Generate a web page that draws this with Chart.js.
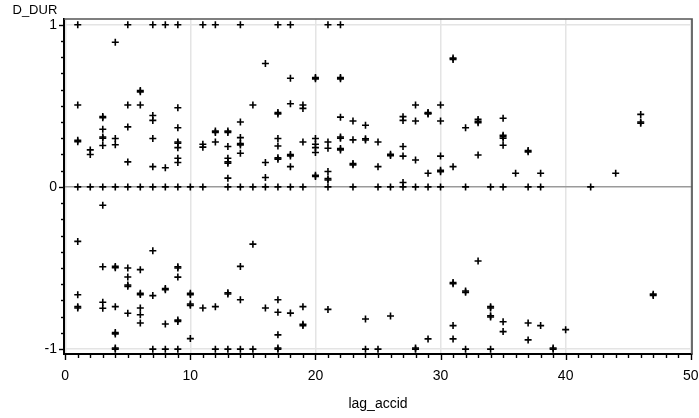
<!DOCTYPE html>
<html><head><meta charset="utf-8">
<script src="https://cdn.jsdelivr.net/npm/chart.js@4.4.1/dist/chart.umd.min.js"></script>
<style>html,body{margin:0;padding:0;background:#fff;}</style>
</head><body>
<canvas id="c" width="699" height="418"></canvas>
<script>
// lag_accid values and the D_DUR observations read at each lag
const lagAccid = [1,2,3,4,5,6,7,8,9,10,11,12,13,14,15,16,17,18,19,20,21,22,23,24,25,26,27,28,29,30,31,32,33,34,35,36,37,38,39,40,42,44,46,47];
const dDur = [
  [1, 0.505, 0.287, 0.279, 0, -0.336, -0.665, -0.738, -0.746],
  [0.228, 0.20, 0],
  [0.434, 0.426, 0.355, 0.308, 0.300, 0.255, 0, -0.113, -0.492, -0.711, -0.748],
  [0.892, 0.298, 0.26, 0, -0.49, -0.498, -0.738, -0.898, -0.906, -1, -0.993],
  [1, 0.505, 0.37, 0.154, 0, -0.50, -0.555, -0.605, -0.613, -0.779],
  [0.594, 0.586, 0.505, 0, -0.51, -0.656, -0.664, -0.746, -0.788, -0.839],
  [1, 0.44, 0.41, 0.298, 0.125, 0, -0.394, -0.67, -1],
  [1, 0.118, 0, -0.626, -0.634, -0.845, -1],
  [1, 0.488, 0.365, 0.277, 0.269, 0.242, 0.177, 0.15, 0, -0.492, -0.5, -0.556, -0.821, -0.829, -1],
  [0, -0.656, -0.664, -0.722, -0.730, -0.935],
  [1, 0.263, 0.245, 0, -0.746],
  [1, 0.344, 0.336, 0.277, -0.738, -1],
  [0.344, 0.336, 0.249, 0.177, 0.154, 0.146, 0.054, 0, -0.652, -0.660, -1],
  [1, 0.40, 0.304, 0.267, 0.259, 0.207, 0, -0.49, -0.696, -1],
  [0.505, 0, -0.353, -1],
  [0.761, 0.15, 0.058, 0, -0.746],
  [1, 0.458, 0.450, 0.298, 0.252, 0.179, 0.171, 0, -0.696, -0.773, -0.912, -1, -0.993],
  [1, 0.67, 0.513, 0.199, 0.191, 0.125, 0, -0.778],
  [0.505, 0.484, 0.277, 0, -0.738, -0.847, -0.855],
  [0.674, 0.666, 0.298, 0.263, 0.242, 0.212, 0.072, 0.064],
  [1, 0.277, 0.238, 0.095, 0.051, 0.043, 0, -0.755],
  [1, 0.674, 0.666, 0.43, 0.308, 0.300, 0.236, 0.228],
  [0.406, 0.29, 0.144, 0.136, 0],
  [0.38, 0.297, 0.289, -0.814, -1],
  [0.277, 0.125, 0, -1],
  [0.201, 0.193, 0, -0.796],
  [0.433, 0.41, 0.249, 0.19, 0.027, 0],
  [0.505, 0.406, 0.166, 0, -1, -0.993],
  [0.458, 0.450, 0.454, 0.084, 0, -0.937],
  [0.505, 0.406, 0.19, 0.102, 0.094, 0],
  [0.794, 0.786, 0.125, -0.589, -0.597, -0.855, -0.937],
  [0.365, 0, -0.642, -0.650, -1],
  [0.416, 0.404, 0.396, 0.197, -0.457],
  [0, -0.738, -0.746, -0.794, -0.802, -1],
  [0.423, 0.318, 0.310, 0.30, 0.257, 0, -0.831, -0.892],
  [0.084],
  [0.224, 0.216, 0, -0.839, -0.943],
  [0.084, 0, -0.855],
  [-1, -0.993],
  [-0.88],
  [0],
  [0.084],
  [0.447, 0.400, 0.392],
  [-0.661, -0.669]
];
const xTickLabels = [0, 10, 20, 30, 40, 50];
const yTickLabels = [-1, 0, 1];
const xTitle = 'lag_accid';
const yTitle = 'D_DUR';

const points = [];
lagAccid.forEach((lag, i) => dDur[i].forEach(v => points.push({x: lag, y: v})));

const FONT = '"Liberation Sans", Arial, sans-serif';

const framePlugin = {
  id: 'frame',
  afterDraw(chart) {
    const {ctx, chartArea: a, scales: {x, y}} = chart;
    ctx.save();
    ctx.strokeStyle = '#555';
    ctx.lineWidth = 1.7;
    ctx.beginPath();
    ctx.moveTo(a.left, a.top); ctx.lineTo(a.right, a.top); ctx.lineTo(a.right, a.bottom);
    ctx.stroke();
    ctx.strokeStyle = '#000';
    ctx.lineWidth = 1.4;
    for (let v = 0; v <= 50; v++) {
      const px = Math.round(x.getPixelForValue(v)) + 0.5;
      const len = v % 10 === 0 ? 6 : 4;
      ctx.beginPath(); ctx.moveTo(px, a.bottom); ctx.lineTo(px, a.bottom + len); ctx.stroke();
    }
    for (let k = -10; k <= 10; k++) {
      const py = Math.round(y.getPixelForValue(k / 10)) + 0.5;
      const len = k % 10 === 0 ? 5 : 3;
      ctx.beginPath(); ctx.moveTo(a.left, py); ctx.lineTo(a.left - len, py); ctx.stroke();
    }
    ctx.fillStyle = '#000';
    ctx.font = '14px ' + FONT;
    ctx.textAlign = 'center';
    ctx.textBaseline = 'alphabetic';
    xTickLabels.forEach(v => ctx.fillText(String(v), x.getPixelForValue(v), 380));
    ctx.fillText(xTitle, (a.left + a.right) / 2, 408);
    ctx.font = '13px ' + FONT;
    ctx.textAlign = 'left';
    ctx.fillText(yTitle, 12.5, 13.5);
    ctx.restore();
  }
};

new Chart(document.getElementById('c'), {
  type: 'scatter',
  data: {
    datasets: [{
      data: points,
      pointStyle: 'cross',
      pointRadius: 3.5,
      pointHoverRadius: 3.5,
      borderColor: '#000',
      backgroundColor: '#000',
      pointBorderWidth: 1.6
    }]
  },
  options: {
    responsive: false,
    animation: false,
    devicePixelRatio: 1,
    layout: {padding: {top: 19, right: 7, left: 0, bottom: 0}},
    plugins: {legend: {display: false}, tooltip: {enabled: false}, title: {display: false}},
    scales: {
      x: {
        type: 'linear', min: -0.1, max: 50.1,
        afterBuildTicks: s => { s.ticks = xTickLabels.map(v => ({value: v})); },
        afterFit: s => { s.height = 64; },
        grid: {color: '#e4e4e4', lineWidth: 1.5, drawTicks: false},
        border: {display: true, color: '#000', width: 2},
        ticks: {display: false}
      },
      y: {
        type: 'linear', min: -1.03, max: 1.035,
        afterBuildTicks: s => { s.ticks = yTickLabels.map(v => ({value: v})); },
        afterFit: s => { s.width = 64; },
        grid: {color: c => c.tick && c.tick.value === 0 ? '#9a9a9a' : '#e4e4e4', lineWidth: 1.5, drawTicks: false},
        border: {display: true, color: '#000', width: 2},
        ticks: {color: '#000', font: {family: FONT, size: 14}, padding: 7}
      }
    }
  },
  plugins: [framePlugin]
});
</script>
</body></html>
